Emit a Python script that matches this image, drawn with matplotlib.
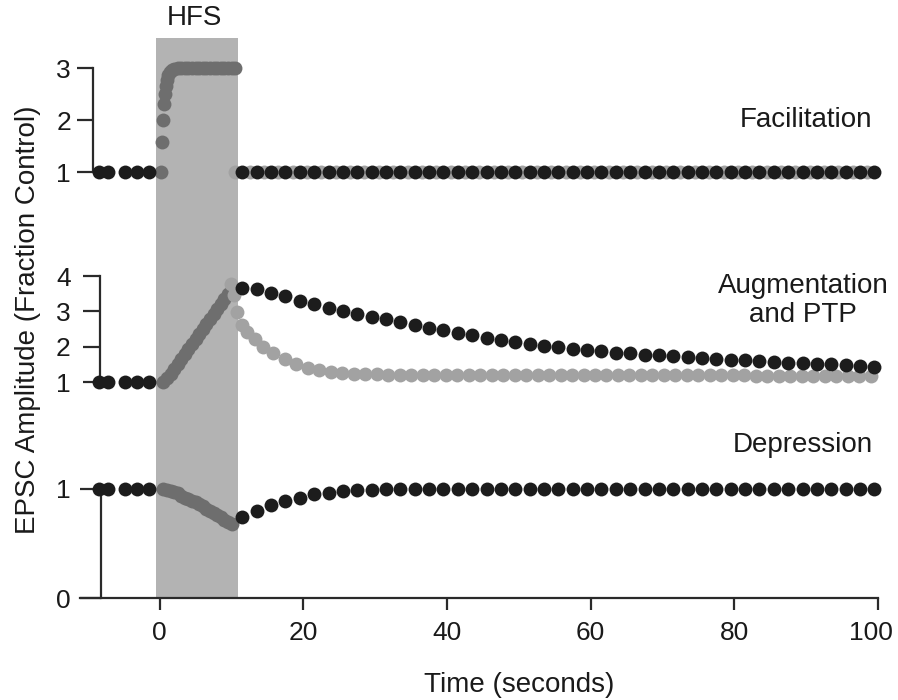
import numpy as np
import matplotlib
matplotlib.use('Agg')
from matplotlib import pyplot as plt
from matplotlib.transforms import ScaledTranslation

plt.rcParams['font.family'] = ['Liberation Sans', 'DejaVu Sans']

W, H = 898, 700

# time grids (seconds)
pre_t = [-8.5, -7.2, -4.8, -3.2, -1.5]
post_t = np.arange(11.5, 100, 2)
halo_t = np.arange(10.5, 100, 2)
hfs_t = np.arange(0.5, 10.01, 0.5)

# facilitation
fac_pre = [1.0, 1.0, 1.0, 1.0, 1.0]
fac_hfs_t = [0.2, 0.3, 0.4, 0.55, 0.7, 0.85, 1.0, 1.2, 1.4, 1.7, 2.0, 2.5, 3.0, 3.5,
             4.0, 4.5, 5.0, 5.5, 6.0, 6.5, 7.0, 7.5, 8.0, 8.5, 9.0, 9.5, 10.0, 10.5]
fac_hfs = [1.0, 1.58, 2.0, 2.3, 2.5, 2.65, 2.77, 2.86, 2.92, 2.96, 2.99,
           3.0, 3.0, 3.0, 3.0, 3.0, 3.0, 3.0, 3.0, 3.0, 3.0, 3.0, 3.0, 3.0, 3.0, 3.0, 3.0, 3.0]
fac_post = [1.0] * 45
fac_halo = [1.0] * 45

# augmentation and PTP
aug_pre = [1.0, 1.0, 1.0, 1.0, 1.0]
aug_hfs = [1.0, 1.1, 1.24, 1.38, 1.52, 1.66, 1.8, 1.94, 2.08, 2.22,
           2.36, 2.5, 2.64, 2.78, 2.92, 3.06, 3.2, 3.34, 3.48, 3.62]
aug_post = [3.66, 3.62, 3.52, 3.42, 3.29, 3.20, 3.09, 3.00, 2.93, 2.84,
            2.77, 2.71, 2.62, 2.54, 2.48, 2.40, 2.33, 2.25, 2.19, 2.12,
            2.07, 2.03, 1.98, 1.94, 1.90, 1.87, 1.83, 1.81, 1.77, 1.76,
            1.73, 1.70, 1.69, 1.66, 1.63, 1.62, 1.60, 1.57, 1.55, 1.54,
            1.52, 1.50, 1.47, 1.46, 1.42]
ptp_t = [9.9, 10.3, 10.8, 11.4, 12.2, 13.2, 14.4, 15.8, 17.4, 19.0, 20.6, 22.2, 23.8, 25.4] \
    + list(np.arange(27.0, 100.1, 1.6))
ptp = [3.78, 3.46, 2.98, 2.6, 2.42, 2.22, 2.0, 1.82, 1.64, 1.51, 1.41, 1.34, 1.29, 1.25] \
    + [1.23, 1.22, 1.22, 1.21, 1.21, 1.21, 1.21, 1.21, 1.21, 1.21, 1.21, 1.2,
       1.2, 1.2, 1.2, 1.2, 1.2, 1.2, 1.2, 1.2, 1.2, 1.2, 1.2, 1.2, 1.2, 1.19,
       1.19, 1.19, 1.19, 1.19, 1.19, 1.19, 1.19, 1.19, 1.19, 1.18, 1.18, 1.18,
       1.18, 1.18, 1.18, 1.18, 1.17, 1.17, 1.17, 1.17]

# depression
dep_pre = [1.0, 1.0, 1.0, 1.0, 1.0]
dep_hfs = [1.0, 0.99, 0.98, 0.97, 0.96, 0.94, 0.92, 0.91, 0.89, 0.88,
           0.86, 0.84, 0.82, 0.80, 0.78, 0.76, 0.74, 0.72, 0.70, 0.68]
dep_post = [0.74, 0.80, 0.85, 0.89, 0.92, 0.95, 0.96, 0.98, 0.99, 0.99] + [1.0] * 35

black = '#1c1c1c'
mid = '#6e6e6e'
light = '#a2a2a2'
ink = '#1a1a1a'
XL = (-11.1, 100)


def box(x0, x1, ytop, ybot):
    return [x0 / W, 1 - ybot / H, (x1 - x0) / W, (ybot - ytop) / H]


fig = plt.figure(figsize=(W / 100, H / 100), dpi=100)

# background with the HFS band
bg = fig.add_axes(box(80, 878, 38, 598))
bg.set_xlim(*XL)
bg.set_ylim(0, 1)
bg.axis('off')
bg.axvspan(-0.45, 10.85, color='#b3b3b3', lw=0, zorder=0)
bg.text(4.9, 1.0 + 20 / 560, 'HFS', ha='center', va='center', fontsize=20, color=ink)


def panel(ytop, ybot, ylim, spine_x, ticklen, pad, ticks):
    ax = fig.add_axes(box(80, 878, ytop, ybot))
    ax.patch.set_alpha(0)
    ax.set_xlim(*XL)
    ax.set_ylim(*ylim)
    for s in ['top', 'right']:
        ax.spines[s].set_visible(False)
    ax.spines['left'].set_position(('data', spine_x))
    ax.spines['left'].set_bounds(*ylim)
    ax.spines['left'].set_linewidth(1.6)
    ax.spines['left'].set_color('#2a2a2a')
    ax.set_yticks(ticks)
    ax.tick_params(axis='y', length=ticklen, width=1.6, pad=pad, labelsize=19,
                   color='#2a2a2a', labelcolor=ink)
    return ax


def dots(ax, t, v, c, z, ms=10):
    ax.plot(t, v, 'o', color=c, ms=ms, mew=0, clip_on=False, zorder=z)


ax_f = panel(68, 172, (1, 3), -9.3, 11.5, 4.3, [1, 2, 3])
ax_a = panel(276, 382, (1, 4), -8.3, 12.6, 8.6, [1, 2, 3, 4])
ax_d = panel(489, 598, (0, 1), -8.2, 15.1, 6.5, [0, 1])

for ax in (ax_f, ax_a):
    ax.spines['bottom'].set_visible(False)
    ax.set_xticks([])

ax_d.spines['bottom'].set_linewidth(1.6)
ax_d.spines['bottom'].set_color('#2a2a2a')
ax_d.set_xticks([0, 20, 40, 60, 80, 100])
ax_d.tick_params(axis='x', length=8.6, width=1.6, pad=8, labelsize=19,
                 color='#2a2a2a', labelcolor=ink)
last = ax_d.get_xticklabels()[-1]
last.set_transform(last.get_transform() + ScaledTranslation(-5 / 72, 0, fig.dpi_scale_trans))

# facilitation
dots(ax_f, halo_t, fac_halo, light, 2)
dots(ax_f, fac_hfs_t, fac_hfs, mid, 3)
dots(ax_f, pre_t, fac_pre, black, 4)
dots(ax_f, post_t, fac_post, black, 4)

# augmentation and PTP
dots(ax_a, hfs_t, aug_hfs, mid, 2)
dots(ax_a, ptp_t, ptp, light, 3)
dots(ax_a, pre_t, aug_pre, black, 4)
dots(ax_a, post_t, aug_post, black, 4)

# depression
dots(ax_d, hfs_t, dep_hfs, mid, 2)
dots(ax_d, pre_t, dep_pre, black, 4)
dots(ax_d, post_t, dep_post, black, 4)

fig.text(806 / W, 1 - 120 / H, 'Facilitation', ha='center', va='center', fontsize=20, color=ink)
fig.text(803 / W, 1 - 301 / H, 'Augmentation\nand PTP', ha='center', va='center',
         fontsize=20, color=ink, linespacing=1.15)
fig.text(803 / W, 1 - 445 / H, 'Depression', ha='center', va='center', fontsize=20, color=ink)
fig.text(28 / W, 1 - 320 / H, 'EPSC Amplitude (Fraction Control)', rotation=90,
         ha='center', va='center', fontsize=20, color=ink)
fig.text(519 / W, 1 - 685 / H, 'Time (seconds)', ha='center', va='center', fontsize=20, color=ink)

fig.savefig('out.png', dpi=100)
